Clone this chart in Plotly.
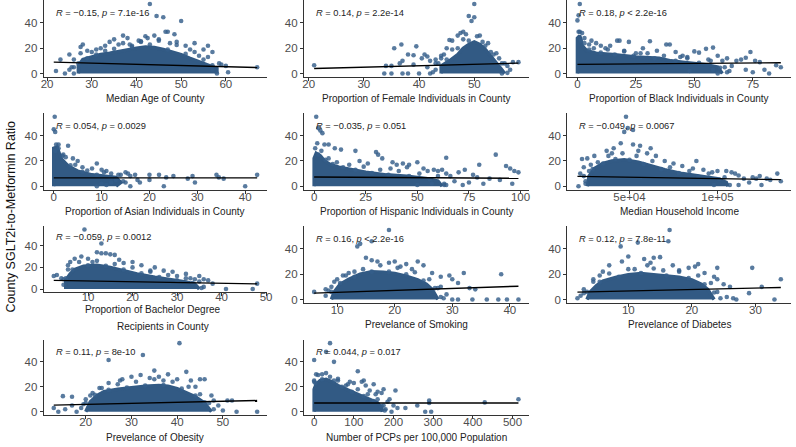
import plotly.graph_objects as go

# ---------------- data ----------------
# Each panel: scattered points (x/y), envelope of the dense point cloud (core_x/core_y),
# fitted regression line end points (fit_x/fit_y)

# 1. Median age
age_x = [43, 44.5, 46, 50, 47, 46.5, 48.5, 42, 37, 38, 34, 28, 27.5, 25, 23, 22, 24, 53, 56, 57, 59, 60, 60.5, 67,
         55, 52, 35, 40.5, 39, 33, 31, 29, 27, 26, 25, 26, 57, 58, 51, 45, 44, 49, 30, 32, 36, 54, 41, 47.5,
         29, 31, 33, 35, 37, 39, 41, 43, 45, 47, 49, 51, 53, 55, 56, 57, 58.5, 26, 25.5, 27.5, 42.5, 38.5]
age_y = [55, 45.5, 44.5, 41.5, 33, 33, 31, 29.5, 30, 28, 25, 23, 21, 15, 11, 2, 0, 24, 22, 17, 7, 6, 1, 5,
         19, 19, 27, 26, 22, 18, 19, 12, 8, 5, 3, 0, 3, 0, 22, 27, 30, 25, 17, 20, 23, 14, 25, 24,
         18, 15, 22, 19.5, 24, 21, 25.5, 23, 26, 19, 22.5, 15.5, 17, 11, 13, 6.5, 8, 11, 5, 16, 28, 23]
age_core_x = [27, 27, 28, 30, 32, 34, 36, 38, 40, 42, 44, 46, 48, 50, 52, 54, 56, 58, 58]
age_core_y = [0, 6, 11, 13, 15, 16, 17.5, 19, 20, 21, 20.5, 19, 17, 15, 12, 9.5, 7, 4, 0]
age_fit_x = [21.5, 67]
age_fit_y = [9, 4.7]

# 2. Female proportion
fem_x = [50, 49, 50, 49.5, 48, 47.5, 45.5, 46, 36.8, 35.5, 39.5, 38, 39, 41, 41.5, 40.5, 43, 42, 37, 36.5, 35, 34,
         33.7, 35, 37, 38, 40, 42, 43, 41.5, 39, 21, 56, 57, 58, 56.5, 55, 53, 52, 54.5, 45, 44, 43.5, 47, 51,
         44, 45, 46, 47, 48, 49, 50.5, 51.5, 52.5, 53.5, 54, 55, 55.5, 56, 43, 42.5, 44.5, 48.5]
fem_y = [55, 45.5, 44.5, 41.5, 33, 32, 26.5, 26, 23, 20, 21.5, 15, 14.5, 15, 13.5, 12, 11, 10, 10, 8, 6, 6,
         0, 0, 0, 0, 0, 0, 3, 5, 7, 6.5, 6, 9, 9, 3, 0, 17, 22, 12, 20, 14, 8, 30, 30,
         12, 11, 19, 20, 27, 26, 29.5, 25, 24, 15, 16, 8, 8, 0.5, 8, 1, 15, 31]
fem_core_x = [44, 44, 45.5, 47, 48, 49, 50, 51, 52, 53, 54, 55, 55.5]
fem_core_y = [0, 6, 10, 15, 20, 23, 25, 23, 19, 14, 8, 3, 0]
fem_fit_x = [21, 58]
fem_fit_y = [4.0, 8.2]

# 3. Black proportion
blk_x = [1, 0.5, 0, 1, 2, 3, 5, 8, 10, 14, 17, 18, 22, 28, 31, 34, 38, 39.5, 42, 44, 47, 50, 52, 55, 58, 60, 62,
         64, 66, 68, 70, 72, 74, 76, 78, 80, 85, 87, 82, 75, 72, 65, 60, 58, 56, 48, 45, 30, 25, 20, 12, 6,
         0.5, 1.5, 3, 5, 7, 10, 13, 16, 20, 24, 27, 33, 37, 42, 47, 52, 57, 61, 63, 64]
blk_y = [55, 46, 42, 33, 32, 28, 23, 24, 22, 22, 26, 26, 25, 20, 25.5, 18, 23, 23, 17, 13, 13, 17.5, 16.5, 19.5,
         20.5, 14, 10, 12, 6, 10, 11, 12.5, 17, 10, 9, 3, 6.5, 5, 0, 1, 3, 2, 0, 3, 11, 2, 14, 16, 16, 18, 20, 26,
         33, 26, 24, 19, 20, 16.5, 19, 15, 17.5, 14, 16, 12, 14, 10, 12, 8.5, 10, 4.5, 5, 1]
blk_core_x = [0, 0, 1, 2, 4, 8, 15, 25, 35, 40, 45, 50, 55, 60, 62]
blk_core_y = [0, 28, 30, 22, 18, 16, 15, 13, 12, 10, 9, 8, 7, 5, 0]
blk_fit_x = [0, 87]
blk_fit_y = [7.2, 8.5]

# 4. Asian proportion
asn_x = [0.2, 0, 0.3, 0.5, 1, 3, 2, 4, 5, 9, 6, 8, 10, 11, 12, 14, 15, 15.5, 16, 17, 17.5, 18, 20, 20, 22, 23,
         23.5, 25, 28, 29, 29.5, 34, 34.5, 35.5, 40, 42.5, 16, 12, 13, 10, 9,
         0.3, 1, 1.8, 2.5, 3.5, 4.5, 6, 7, 9, 10.5, 12, 13.5, 14.5, 15, 11]
asn_y = [55, 45, 43, 33, 33, 32, 25, 22, 20, 18, 15, 14, 13, 12, 10, 9, 11, 10, 8, 9, 5, 3, 9, 5, 9, 0,
         7, 8, 6, 8, 3, 9, 7, 6, 0, 9, 0, 3, 5, 2, 0,
         28, 30, 24, 23, 16.5, 17, 11.5, 12.5, 9, 11, 7, 9, 4, 3, 1]
asn_core_x = [0, 0, 0.7, 1.5, 3, 5, 8, 11, 13, 14, 13]
asn_core_y = [0, 30, 31, 22, 16, 12, 9, 8, 7, 3, 0]
asn_fit_x = [0, 42.5]
asn_fit_y = [6.6, 6.6]

# 5. Hispanic proportion
his_x = [1, 2, 3, 4, 1.5, 5, 7, 10, 13, 20, 30, 31, 33, 38, 40, 43, 46, 50, 53, 55, 58, 60, 62, 64, 64, 66, 68, 70,
         73, 75, 77, 79, 80, 82, 85, 88, 90, 93, 95, 96, 97, 99, 57, 63, 72, 50, 45, 37, 26, 22,
         0.5, 2, 3.5, 5.5, 7, 9, 11, 14, 17, 20, 24, 28, 32, 36, 41, 46, 51, 56, 60, 63, 64]
his_y = [55, 46, 44, 42, 34, 33, 33, 30, 29, 28, 27, 25, 22, 19, 17, 18, 17, 19, 14, 12, 13, 12, 13, 22.5, 10, 8, 4,
         11, 13, 3, 9, 7, 17, 2, 6, 25, 5, 16, 14, 2, 12, 11, 2, 1, 1, 1, 15, 14, 18, 20,
         30, 25, 28, 21, 22, 17.5, 19, 15, 17, 13, 15.5, 10.5, 13, 9, 12, 8, 10, 5.5, 8, 2, 1]
his_core_x = [0, 0, 1, 3, 5, 8, 12, 18, 25, 35, 45, 55, 60, 62]
his_core_y = [0, 22, 26, 24, 20, 17, 15, 13, 11, 9, 8, 6, 4, 0]
his_fit_x = [0, 99]
his_fit_y = [7.3, 6.3]

# 6. Median household income
inc_x = [48000, 49000, 47000, 52000, 45000, 52000, 56000, 62000, 41000, 37000, 40000, 23000, 26000, 30000, 28000,
         24000, 22000, 21000, 25000, 60000, 70000, 75000, 80000, 86000, 88000, 92000, 97000, 100000, 105000, 108000,
         110000, 112000, 115000, 118000, 120000, 122000, 124000, 128000, 130000, 134000, 136000, 125000, 112000,
         98000, 65000, 55000,
         27000, 29000, 32000, 35000, 38000, 42000, 46000, 50000, 54000, 58000, 63000, 68000, 73000, 78000, 84000,
         89000, 95000, 101000, 104000, 107000, 24000, 25000]
inc_y = [55, 46, 43, 44.5, 34, 33, 32, 30, 30, 28, 26, 21.5, 22, 24, 17, 15, 10, 0, 4, 26, 20, 18, 16, 14, 20, 13,
         11, 12, 12, 11, 10, 8.5, 6, 3, 7, 6, 8, 6, 5, 10, 4, 1, 1, 1, 24, 28,
         12, 13.5, 19, 18, 24, 21.5, 26, 21, 24, 17.5, 20, 13.5, 15, 10.5, 12, 7.5, 10, 5.5, 7, 1, 8, 2]
inc_core_x = [26000, 27000, 30000, 35000, 40000, 47000, 55000, 62000, 70000, 80000, 90000, 100000, 105000, 106000]
inc_core_y = [0, 8, 14, 18, 20, 21, 19, 16, 13, 10, 8, 6, 3, 0]
inc_fit_x = [20400, 136000]
inc_fit_y = [7.8, 5.2]

# 7. Bachelor degree recipients
bac_x = [9.2, 13, 12, 13, 14, 15, 16, 8.5, 7, 10, 17, 20, 22, 25, 29, 32, 35, 36, 37, 38, 36, 41, 47, 48, 33, 27,
         5.5, 3, 2.3, 4, 4.5, 6, 11, 18, 24, 30, 34,
         4.5, 5, 5.5, 6.5, 8, 10, 12, 14, 16, 18, 20, 22, 24, 26, 28, 30, 32, 33.5, 35, 35.5]
bac_y = [55, 42, 34, 33, 33, 32, 31.5, 30, 28, 28, 27, 25, 22, 20, 16, 14, 12, 9, 8, 5, 2, 0, 0, 5, 10, 17,
         22, 13, 12, 10, 4, 25, 25, 24, 17, 12, 9,
         9, 10, 18, 18, 25, 22, 26, 21.5, 23, 18, 20, 14.5, 16, 11, 13, 8, 10, 5.5, 7, 1]
bac_core_x = [5, 5, 6, 7, 9, 12, 15, 18, 21, 25, 29, 32, 34, 35]
bac_core_y = [0, 8, 14, 18, 21, 22, 20, 17, 14, 11, 8.5, 6.5, 4.5, 0]
bac_fit_x = [2.3, 48]
bac_fit_y = [8.0, 4.8]

# 8. Smoking prevalence
smk_x = [19, 13.5, 14, 16, 15, 16, 17, 19, 20, 22, 24, 25, 26.5, 28, 29.5, 32, 30, 31, 33, 34, 36, 38, 39.5, 41.5,
         38.5, 31, 30, 33.5, 29, 28, 6, 8, 8, 9, 10, 11, 12, 13, 23, 21,
         8.5, 9, 9.5, 10.5, 11.5, 13, 14.5, 16, 17.5, 19, 20.5, 22, 23.5, 25, 26, 27, 27.5, 28, 28.5]
smk_y = [55, 42, 44, 46, 33, 31, 30, 29, 30, 28, 30, 27, 21, 18, 19, 21, 16, 13, 9, 8, 0, 0, 0, 0,
         20, 0, 0, 0, 4, 10, 6, 3, 8, 10, 16, 19, 21, 22, 24, 26,
         7, 6, 14, 13, 19, 18, 24, 22, 27, 22, 25, 20, 21.5, 15, 16, 9, 9, 2, 1]
smk_core_x = [9, 9.5, 10.5, 12, 14, 16, 18, 20, 22, 24, 25.5, 26.5, 27, 27.5]
smk_core_y = [0, 6, 12, 16, 20, 22, 21.5, 20.5, 18.5, 15.5, 12, 8, 4, 0]
smk_fit_x = [6, 41.5]
smk_fit_y = [5.0, 10.5]

# 9. Diabetes prevalence
dia_x = [16.5, 16.3, 8.8, 11.5, 14, 10, 9, 12.5, 15, 13.5, 19.5, 20.5, 21, 17, 24, 22, 24, 25, 26, 27, 26.5, 29,
         29.5, 31, 33, 34, 25.5, 7, 6, 3, 2, 2.5, 4.5, 5.5, 23.5, 18, 11,
         3, 3.5, 4.5, 5.5, 7, 8.5, 10, 12, 14, 16, 18, 19.5, 21, 22, 23, 23.5, 24, 24.5, 13, 15.5]
dia_y = [55, 46, 42, 45, 33, 34, 30, 32, 33.5, 29, 25, 26, 28, 27, 25, 21, 16, 12, 10, 0, 1, 5,
         25, 10, 0, 16, 2, 27, 22, 8, 1, 3, 16, 19, 18, 23, 24,
         5, 6, 14, 14, 20.5, 18, 24, 21, 24.5, 19, 22, 17, 19, 12, 13, 5.5, 6, 1, 27, 23]
dia_core_x = [3.5, 4, 5, 6, 8, 10, 12, 14, 16, 18, 20, 21.5, 22.5, 23, 23.5]
dia_core_y = [0, 6, 11, 14.5, 17.5, 19.5, 20.5, 19.5, 18.5, 17.5, 15.5, 12, 8, 4, 0]
dia_fit_x = [2, 34]
dia_fit_y = [5.8, 9.5]

# 10. Obesity prevalence
obe_x = [40.5, 32.5, 25, 35, 38, 32, 36, 42, 37, 30, 28, 25, 23, 21.5, 20, 17, 15, 14, 13, 15.5, 17, 18, 19, 45, 46,
         44, 47.5, 48, 49, 50, 51, 52, 53, 57.5, 43, 40, 34, 27.5,
         19.5, 20, 21, 22, 23.5, 25, 27, 29, 31, 33, 35, 37, 39, 41, 42.5, 44, 45, 46, 47, 48]
obe_y = [55, 45.5, 41.5, 33, 30, 29.5, 28, 32, 25, 28, 26, 23, 19, 15, 10, 12, 12.5, 0, 3, 2, 5, 0, 3, 26, 26,
         20, 13, 9, 5, 1, 9, 9, 0, 0, 25, 26, 27, 25,
         6, 7, 13, 13.5, 19, 17.5, 22, 19.5, 24, 21, 26, 21.5, 24, 18.5, 20, 13, 14, 7.5, 7, 2]
obe_core_x = [20, 21, 22.5, 24, 27, 30, 33, 36, 38, 40, 42, 44, 46, 47, 47.5]
obe_core_y = [0, 8, 13, 16, 18, 19.5, 20.5, 21, 20.5, 18.5, 15.5, 12, 7, 3, 0]
obe_fit_x = [13, 57.5]
obe_fit_y = [5.3, 9.0]

# 11. PCPs per 100,000 population
pcp_x = [40, 30, 0, 50, 5, 20, 40, 60, 110, 125, 130, 120, 100, 150, 160, 170, 175, 190, 200, 205, 185, 195, 210,
         230, 260, 280, 290, 290, 295, 430, 515, 180, 155, 140, 0,
         0, 3, 10, 20, 30, 50, 60, 70, 85, 95, 110, 125, 135, 150, 160, 170, 175, 178, 80, 90]
pcp_y = [55, 48, 41.5, 40, 30, 30, 28, 25, 32.5, 25, 21, 24, 23, 22, 16, 15, 18, 10, 5, 17, 8, 0, 3,
         3, 5, 0, 9, 7, 0, 7.5, 10, 2, 14, 17, 25,
         24, 23, 29.5, 26, 31, 25, 26.5, 20, 22, 16, 18, 12.5, 14, 8.5, 10, 4.5, 5, 1, 21, 24]
pcp_core_x = [0, 0, 5, 15, 30, 45, 60, 80, 100, 120, 140, 160, 170, 172]
pcp_core_y = [0, 18, 22, 25, 26, 24, 21, 18, 15.5, 12.5, 10, 7, 3, 0]
pcp_fit_x = [0, 515]
pcp_fit_y = [7.0, 7.0]

# Labels
x_titles = ["Median Age of County", "Proportion of Female Individuals in County",
            "Proportion of Black Individuals in County", "Proportion of Asian Individuals in County",
            "Proportion of Hispanic Individuals in County", "Median Household Income",
            ["Proportion of Bachelor Degree", "Recipients in County"], "Prevelance of Smoking",
            "Prevelance of Diabetes", "Prevelance of Obesity", "Number of PCPs per 100,000 Population"]
stat_labels = ["<i>R</i> = −0.15, <i>p</i> = 7.1e-16", "<i>R</i> = 0.14, <i>p</i> = 2.2e-14",
               "<i>R</i> = 0.18, <i>p</i> < 2.2e-16", "<i>R</i> = 0.054, <i>p</i> = 0.0029",
               "<i>R</i> = −0.035, <i>p</i> = 0.051", "<i>R</i> = −0.049, <i>p</i> = 0.0067",
               "<i>R</i> = −0.059, <i>p</i> = 0.0012", "<i>R</i> = 0.16, <i>p</i> < 2.2e-16",
               "<i>R</i> = 0.12, <i>p</i> = 7.8e-11", "<i>R</i> = 0.11, <i>p</i> = 8e-10",
               "<i>R</i> = 0.044, <i>p</i> = 0.017"]
y_title = "County SGLT2i-to-Metformin Ratio"
y_ticks = [0, 20, 40]
x_ticks = [[20, 30, 40, 50, 60], [20, 30, 40, 50], [0, 25, 50, 75], [0, 10, 20, 30, 40], [0, 25, 50, 75, 100],
           [50000, 100000], [0, 10, 20, 30, 40, 50], [10, 20, 30, 40], [10, 20, 30], [20, 30, 40, 50],
           [0, 100, 200, 300, 400, 500]]
x_tick_text = [None, None, None, None, None, ["5e+04", "1e+05"], None, None, None, None, None]

panels = [
    (age_x, age_y, age_core_x, age_core_y, age_fit_x, age_fit_y),
    (fem_x, fem_y, fem_core_x, fem_core_y, fem_fit_x, fem_fit_y),
    (blk_x, blk_y, blk_core_x, blk_core_y, blk_fit_x, blk_fit_y),
    (asn_x, asn_y, asn_core_x, asn_core_y, asn_fit_x, asn_fit_y),
    (his_x, his_y, his_core_x, his_core_y, his_fit_x, his_fit_y),
    (inc_x, inc_y, inc_core_x, inc_core_y, inc_fit_x, inc_fit_y),
    (bac_x, bac_y, bac_core_x, bac_core_y, bac_fit_x, bac_fit_y),
    (smk_x, smk_y, smk_core_x, smk_core_y, smk_fit_x, smk_fit_y),
    (dia_x, dia_y, dia_core_x, dia_core_y, dia_fit_x, dia_fit_y),
    (obe_x, obe_y, obe_core_x, obe_core_y, obe_fit_x, obe_fit_y),
    (pcp_x, pcp_y, pcp_core_x, pcp_core_y, pcp_fit_x, pcp_fit_y),
]

# ---------------- layout (pixel geometry) ----------------
W, H = 796, 447
cols_px = [(41, 267), (304, 531), (570, 796)]
rows_px = [(0.5, 77.5), (114, 191), (228, 305), (342, 418)]
FONT = "Liberation Sans, Arial, sans-serif"
PT_COLOR = "rgba(52,94,138,0.82)"
CORE_COLOR = "rgb(50,90,132)"
TITLE_FONT = dict(size=10, color="#222", family=FONT)

fig = go.Figure()
annotations = []
layout_axes = {}

for i, (px, py, cx, cy, fx, fy) in enumerate(panels):
    n = i + 1
    r, c = divmod(i, 3)
    x0, x1 = cols_px[c]
    yt, yb = rows_px[r]
    if n == 7:
        yb = 294
    xa = "x" if n == 1 else f"x{n}"
    ya = "y" if n == 1 else f"y{n}"

    # automatic expanded range (5% like ggplot)
    allx = list(px) + list(cx) + list(fx)
    lo, hi = min(allx), max(allx)
    pad = (hi - lo) * 0.05

    fig.add_trace(go.Scatter(x=cx, y=cy, mode="lines", fill="toself", fillcolor=CORE_COLOR,
                             line=dict(color=CORE_COLOR, width=3.5), xaxis=xa, yaxis=ya,
                             hoverinfo="skip", showlegend=False))
    fig.add_trace(go.Scatter(x=px, y=py, mode="markers",
                             marker=dict(color=PT_COLOR, size=4.6, line=dict(width=0)),
                             xaxis=xa, yaxis=ya, showlegend=False))
    fig.add_trace(go.Scatter(x=fx, y=fy, mode="lines", line=dict(color="black", width=1.4),
                             xaxis=xa, yaxis=ya, showlegend=False))

    axis_common = dict(showline=True, linecolor="#333", linewidth=1, ticks="outside", ticklen=3,
                       tickcolor="#333", tickwidth=1, showgrid=False, zeroline=False,
                       tickfont=dict(size=11.5, color="#4d4d4d", family=FONT))
    xkey = "xaxis" if n == 1 else f"xaxis{n}"
    ykey = "yaxis" if n == 1 else f"yaxis{n}"
    xd = dict(domain=[x0 / W, x1 / W], anchor=ya, range=[lo - pad, hi + pad],
              tickvals=x_ticks[i], ticklabelstandoff=(-9 if n == 7 else -7), **axis_common)
    if x_tick_text[i] is not None:
        xd["ticktext"] = x_tick_text[i]
    layout_axes[xkey] = xd
    layout_axes[ykey] = dict(domain=[1 - yb / H, 1 - yt / H], anchor=xa, range=[-2.75, 57.75],
                             tickvals=y_ticks, **axis_common)

    # stat label
    annotations.append(dict(x=lo, y=48, xref=xa, yref=ya, text=stat_labels[i], showarrow=False,
                            xanchor="left", yanchor="middle", font=dict(size=9.3, color="#222", family=FONT)))
    # x title
    cxp = (x0 + x1) / 2
    if isinstance(x_titles[i], list):
        annotations.append(dict(x=(cxp - 2) / W, y=1 - (yb + 17.5) / H, xref="paper", yref="paper",
                                text=x_titles[i][0], showarrow=False, xanchor="center", yanchor="middle",
                                font=TITLE_FONT))
        annotations.append(dict(x=(cxp + 8) / W, y=1 - (yb + 35) / H, xref="paper", yref="paper",
                                text=x_titles[i][1], showarrow=False, xanchor="center", yanchor="middle",
                                font=TITLE_FONT))
    else:
        annotations.append(dict(x=cxp / W, y=1 - (yb + 22) / H, xref="paper", yref="paper",
                                text=x_titles[i], showarrow=False, xanchor="center", yanchor="middle",
                                font=TITLE_FONT))

annotations.append(dict(x=8 / W, y=1 - 218 / H, xref="paper", yref="paper", text=y_title, textangle=-90,
                        showarrow=False, xanchor="center", yanchor="middle",
                        font=dict(size=12.5, color="#111", family=FONT)))

fig.update_layout(width=W, height=H, margin=dict(l=0, r=0, t=0, b=0, pad=0),
                  paper_bgcolor="white", plot_bgcolor="white", showlegend=False,
                  annotations=annotations, font=dict(family=FONT), **layout_axes)

fig.write_html("out.html", config={"displayModeBar": False},
               post_script="document.body.style.margin='0';document.body.style.padding='0';")
